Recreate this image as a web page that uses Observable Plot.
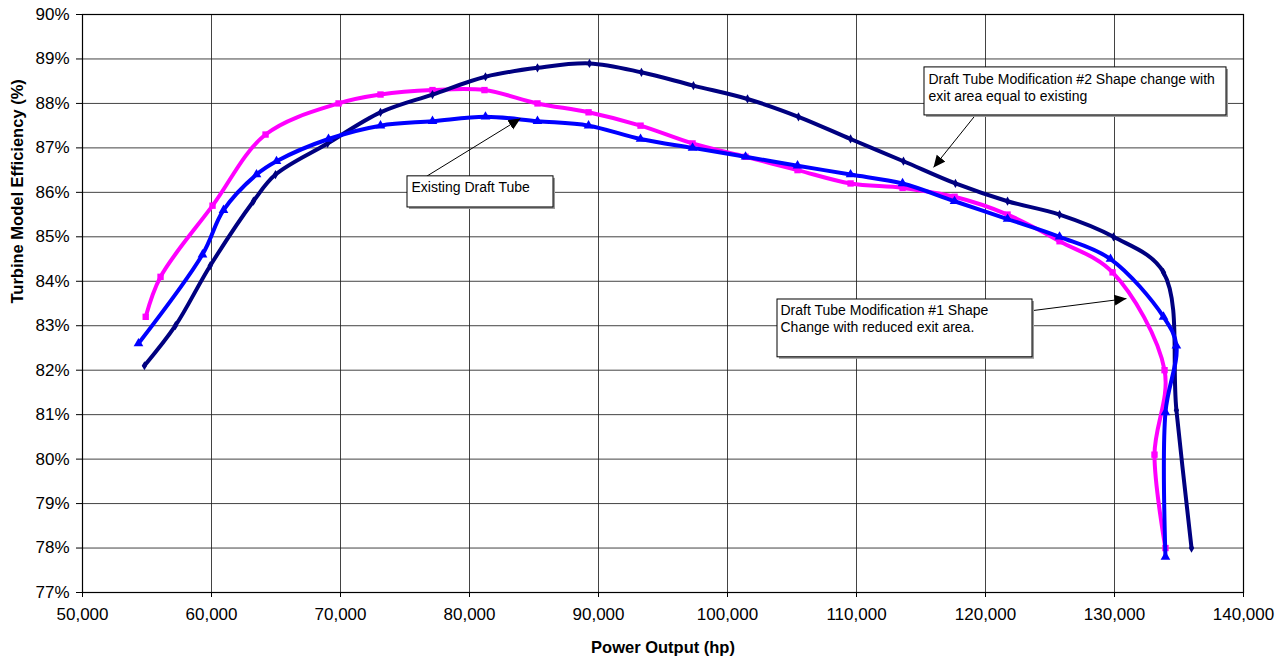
<!DOCTYPE html>
<html>
<head>
<meta charset="utf-8">
<script src="https://cdn.jsdelivr.net/npm/d3@7"></script>
<script src="https://cdn.jsdelivr.net/npm/@observablehq/plot@0.6"></script>
<style>
  html, body { margin: 0; padding: 0; background: #fff; }
  svg { display: block; }
</style>
</head>
<body>
<div id="chart"></div>
<script>
// Turbine model efficiency vs. power output for three draft tube geometries.

// Existing draft tube (blue, triangles)
const existingPower = [54340, 59300, 60930, 63490, 65040, 69070, 73100, 77130, 81240, 85270, 89230, 93260, 97290, 101400, 105430, 109540, 113570, 117600, 121710, 125740, 129690, 133800, 134800, 133950, 133950];
const existingEff   = [82.6, 84.6, 85.6, 86.4, 86.7, 87.2, 87.5, 87.6, 87.7, 87.6, 87.5, 87.2, 87.0, 86.8, 86.6, 86.4, 86.2, 85.8, 85.4, 85.0, 84.5, 83.2, 82.55, 81.05, 77.8];

// Modification #1: shape change with reduced exit area (magenta, squares)
const mod1Power = [54900, 56050, 60080, 64190, 69850, 73100, 77130, 81160, 85270, 89230, 93260, 97290, 101400, 105430, 109540, 113570, 117600, 121710, 125740, 129850, 133880, 133100, 133950];
const mod1Eff   = [83.2, 84.1, 85.7, 87.3, 88.0, 88.2, 88.3, 88.3, 88.0, 87.8, 87.5, 87.1, 86.8, 86.5, 86.2, 86.1, 85.9, 85.5, 84.9, 84.2, 82.0, 80.1, 78.0];

// Modification #2: shape change with exit area equal to existing (navy, diamonds)
const mod2Power = [54800, 57200, 59900, 63250, 64960, 69000, 73100, 77130, 81240, 85270, 89300, 93330, 97360, 101550, 105500, 109540, 113640, 117670, 121710, 125740, 129920, 133800, 134800, 135970];
const mod2Eff   = [82.1, 83.0, 84.35, 85.8, 86.4, 87.1, 87.8, 88.2, 88.6, 88.8, 88.9, 88.7, 88.4, 88.1, 87.7, 87.2, 86.7, 86.2, 85.8, 85.5, 85.0, 84.2, 81.1, 78.0];

// Axis ticks
const powerTicks = [50000, 60000, 70000, 80000, 90000, 100000, 110000, 120000, 130000, 140000];
const effTicks = [77, 78, 79, 80, 81, 82, 83, 84, 85, 86, 87, 88, 89, 90];

// Callout boxes (data coordinates), their text and leader arrows
const calloutText = [
  "Existing Draft Tube",
  "Draft Tube Modification #2 Shape change with\nexit area equal to existing",
  "Draft Tube Modification #1 Shape\nChange with reduced exit area."
];
const calloutBoxX1 = [75194, 115271, 103876];
const calloutBoxX2 = [86512, 138682, 123643];
const calloutBoxTop = [86.36, 88.81, 83.59];
const calloutBoxBottom = [85.66, 87.73, 82.29];
const calloutTextX = [75504, 115581, 104109];
const calloutTextY = [86.27, 88.72, 83.52];
const arrowFromX = [76667, 119147, 123643];
const arrowFromY = [86.36, 87.71, 83.34];
const arrowToX = [83953, 115969, 130930];
const arrowToY = [87.66, 86.56, 83.61];

const toRows = (xs, ys) => xs.map((x, i) => ({power: x, eff: ys[i]}));
const existing = toRows(existingPower, existingEff);
const mod1 = toRows(mod1Power, mod1Eff);
const mod2 = toRows(mod2Power, mod2Eff);

const callouts = calloutText.map((t, i) => ({
  text: t,
  x1: calloutBoxX1[i], x2: calloutBoxX2[i],
  y1: calloutBoxBottom[i], y2: calloutBoxTop[i],
  tx: calloutTextX[i], ty: calloutTextY[i],
  ax1: arrowFromX[i], ay1: arrowFromY[i],
  ax2: arrowToX[i], ay2: arrowToY[i]
}));

const PINK = "#ff00ff", BLUE = "#0000ff", NAVY = "#000080";
const fmt = d3.format(",");

const chart = Plot.plot({
  width: 1279,
  height: 659,
  marginLeft: 82,
  marginRight: 36,
  marginTop: 14,
  marginBottom: 67,
  style: {fontFamily: "'Liberation Sans', Arial, sans-serif", fontSize: "17px", color: "#000", background: "#fff"},
  x: {domain: [50000, 140000]},
  y: {domain: [77, 90]},
  marks: [
    Plot.gridX(powerTicks, {stroke: "#222", strokeOpacity: 0.85}),
    Plot.gridY(effTicks, {stroke: "#222", strokeOpacity: 0.85}),
    Plot.frame({stroke: "#000", strokeWidth: 1.2}),
    Plot.axisX({ticks: powerTicks, tickFormat: fmt, tickSize: 5, tickPadding: 10, label: null, fontSize: 17}),
    Plot.axisY({ticks: effTicks, tickFormat: d => d + "%", tickSize: 6, tickPadding: 7, label: null, fontSize: 17}),

    // Series
    Plot.line(mod1, {x: "power", y: "eff", stroke: PINK, strokeWidth: 4, curve: "catmull-rom"}),
    Plot.dot(mod1, {x: "power", y: "eff", symbol: "square", fill: PINK, r: 3.6}),
    Plot.line(mod2, {x: "power", y: "eff", stroke: NAVY, strokeWidth: 4, curve: "catmull-rom"}),
    Plot.dot(mod2, {x: "power", y: "eff", symbol: "diamond", fill: NAVY, r: 2.8}),
    Plot.line(existing, {x: "power", y: "eff", stroke: BLUE, strokeWidth: 4, curve: "catmull-rom"}),
    Plot.dot(existing, {x: "power", y: "eff", symbol: "triangle", fill: BLUE, r: 3.6}),

    // Callouts
    Plot.link(callouts, {x1: "ax1", y1: "ay1", x2: "ax2", y2: "ay2", stroke: "#000", strokeWidth: 1}),
    Plot.rect(callouts, {x1: "x1", x2: "x2", y1: "y1", y2: "y2", fill: "#9a9a9a", dx: 2, dy: 2}),
    Plot.rect(callouts, {x1: "x1", x2: "x2", y1: "y1", y2: "y2", fill: "#fff", stroke: "#000", strokeWidth: 1}),
    Plot.text(callouts, {x: "tx", y: "ty", text: "text", textAnchor: "start", lineAnchor: "top", lineHeight: 1.22, fontSize: 14, fill: "#000"}),

    // Axis titles
    Plot.text(["Power Output (hp)"], {frameAnchor: "bottom", dy: 55, lineAnchor: "middle", fontWeight: "bold", fontSize: 16.5}),
    Plot.text(["Turbine Model Efficiency (%)"], {frameAnchor: "left", dx: -65, rotate: -90, lineAnchor: "middle", fontWeight: "bold", fontSize: 16.5})
  ]
});

// Filled arrowheads on the callout leaders
const svg = d3.select(chart);
svg.insert("defs", ":first-child")
  .append("marker")
  .attr("id", "callout-head")
  .attr("viewBox", "0 0 12 12")
  .attr("refX", 12)
  .attr("refY", 6)
  .attr("markerWidth", 12)
  .attr("markerHeight", 12)
  .attr("markerUnits", "userSpaceOnUse")
  .attr("orient", "auto")
  .append("path")
  .attr("d", "M0,0.5L12,6L0,11.5Z")
  .attr("fill", "#000");
svg.selectAll('g[aria-label="link"] path, g[aria-label="link"] line')
  .attr("marker-end", "url(#callout-head)");

document.getElementById("chart").appendChild(chart);
</script>
</body>
</html>
